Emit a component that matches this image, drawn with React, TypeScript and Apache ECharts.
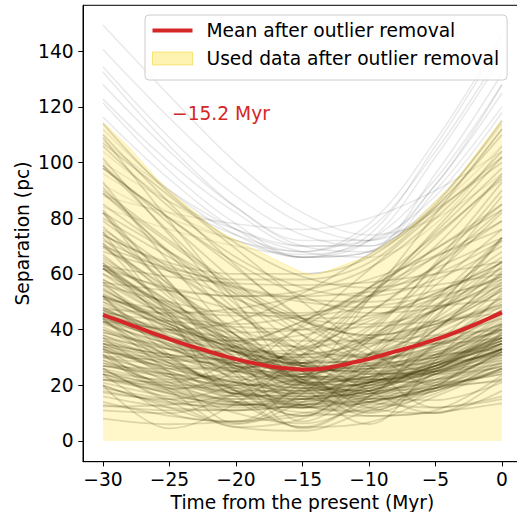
import React, { useEffect, useRef } from 'react';
import * as echarts from 'echarts';

const trackTimes = [-30, -25, -20, -15, -10, -5, 0];

const outlierTracks: number[][] = [
  [149.4, 124, 100, 82, 74, 80, 96],
  [140.6, 116, 94, 78, 72, 84, 106],
  [134.4, 109, 88, 74, 70, 86, 114],
  [132.5, 106, 84, 70, 68, 90, 120],
  [122.8, 100, 82, 70, 70, 92, 125],
  [121.5, 97, 78, 66, 68, 96, 132],
  [116.4, 94, 76, 66, 72, 102, 138],
  [112, 90, 74, 66, 74, 106, 144],
  [104, 86, 74, 68, 76, 104, 140],
  [96, 82, 72, 68, 78, 108, 146],
  [88, 82, 78, 76, 80, 90, 104],
  [100, 86, 76, 70, 72, 88, 118],
  [92, 80, 72, 66, 68, 84, 112],
  [84, 76, 70, 67, 72, 94, 128],
  [108, 90, 76, 68, 66, 78, 106],
  [128, 104, 84, 72, 72, 92, 128],
];

const usedTracks: number[][] = [
  [45, 30, 16, 5, 16, 30, 45], [46, 34, 22, 12.5, 11, 20, 32], [27, 23, 20, 20.5, 23, 28, 34],
  [33.5, 21, 15, 21, 33.5, 47, 62], [47, 39, 32, 27, 25, 27, 32], [57, 37, 18, 9, 25, 45, 64.5],
  [50, 41, 33.5, 30, 31.5, 37.5, 46], [20, 13.4, 12.6, 18.4, 27, 36, 45.6], [79, 62, 46, 30, 19, 21, 33],
  [34, 24, 14, 5, 6.7, 16, 26], [46, 43, 41, 40, 41, 43, 46], [25, 22, 25, 33, 43, 53, 64],
  [76, 61, 46, 32, 18, 10, 18], [30.5, 29, 28, 28, 29, 31, 33], [26, 14, 6, 14, 26, 38, 50],
  [72, 61, 51, 43, 37, 35, 37], [82, 57, 34, 17, 26, 48, 72], [51, 47, 45, 45, 48, 52, 58],
  [20, 12, 5, 3.6, 11, 18, 26], [75, 56, 38, 23, 21.5, 34, 52], [12.4, 13, 17, 23, 29.5, 36.5, 44],
  [48, 36, 27, 24, 30, 41, 54], [22, 17.5, 13.5, 10.3, 9, 10.3, 13.5], [74, 63, 55.5, 51, 50, 54, 62],
  [44, 28, 16, 17.5, 31, 48, 64.5], [24, 10, 7, 21, 36, 51, 66], [37, 33, 32, 33, 37, 42, 48],
  [35, 27, 21, 18, 21, 27, 35], [62, 48, 34, 21, 9, 11, 23.5], [27, 26, 26.4, 28, 31, 35, 39],
  [89, 71, 55, 43, 38, 43, 55], [64, 42, 21, 12, 29, 51, 73], [52, 43, 35, 28, 22.5, 21, 24],
  [17.4, 15, 20, 28, 38, 49, 59], [63, 59, 56.6, 56, 57, 60, 64.5], [114, 89, 71, 59, 55, 60, 72],
  [74, 64, 60, 60, 66, 85, 115], [106, 84, 66, 55, 52, 58, 70], [70, 62, 58, 58, 64, 84, 110],
  [98, 80, 64, 52, 46, 48, 56], [62, 55, 52, 54, 62, 80, 104], [90, 72, 56, 44, 38, 42, 54],
  [56, 50, 46, 46, 52, 70, 96], [45, 36.5, 36, 43, 55, 69, 85], [85, 68, 51.5, 38, 30, 34, 45.5],
  [63, 54, 47, 44, 45, 51, 59], [109, 79, 50, 22, 18, 44, 73], [71, 46.5, 28, 31, 51, 76, 102],
  [83, 57, 32, 7, 21, 47, 73], [67, 49, 36, 34, 46, 63, 83], [52, 31, 19, 31, 52, 75, 98],
  [89, 68, 47, 27, 10, 19, 39], [52, 45, 42, 45, 52, 62, 73], [63, 48, 33, 21, 17, 25.5, 39],
  [93, 64, 38, 23, 38, 64, 93], [31, 18, 5, 8, 21, 34, 47], [43, 40, 37, 36, 36, 38, 40],
  [52.5, 42, 32, 22.5, 15.5, 14.7, 21], [99, 75, 52.5, 34, 27.5, 40, 61], [22, 21, 29, 41, 55, 69, 83],
  [98, 80, 62, 44, 27, 12, 15], [68, 61, 55, 50, 48, 48.5, 51], [20, 4.5, 13.5, 30, 46, 63, 79],
  [34, 26, 22, 24, 31, 40, 51], [32, 30, 34, 43, 54, 66, 79], [62, 45, 28, 13, 10.5, 25, 42],
  [24, 20, 17, 16, 17, 20, 24], [46, 40, 43, 53, 67, 83, 100], [75, 45, 17, 22, 51, 81.5, 112],
  [82, 68, 54, 41, 31, 25, 28], [29, 19, 10, 6.3, 13.4, 23, 33], [54.5, 42, 33.5, 31, 36.5, 47, 60],
  [77, 56, 36, 21, 23, 40, 60], [24, 17, 13, 15, 21, 28, 37], [57, 54, 52, 52, 53.5, 56, 60],
  [33, 19, 21, 36, 55, 74, 94], [110, 85.5, 63, 44, 35, 44, 63], [26, 15, 11, 19, 31, 43, 56],
  [44, 37.5, 32, 27, 24.5, 24, 26.5], [91, 67, 43, 20, 6, 29, 53], [35, 31, 29, 31, 35, 42, 49],
  [57, 44, 32, 22, 15, 18, 28], [64, 46, 30, 20, 25, 40, 57], [14, 9, 7, 9, 14, 19, 25],
  [63, 48, 39, 40, 51, 66.5, 85], [82, 53, 25, 12, 31, 59, 88], [35, 31, 29, 27, 27, 28, 31],
  [62, 43, 23.5, 4.4, 16, 35, 55], [47.5, 46, 47.5, 52, 58, 66.5, 76], [107, 88, 69, 50, 33, 20, 21.5],
  [101.5, 74, 49, 33.5, 41, 63, 90], [43, 30, 18, 14, 22, 35, 48.5], [52, 34, 26, 34, 52, 73, 95],
  [11, 10, 17, 27, 37, 47, 57], [99, 78, 57, 38, 24, 26, 41.5], [80, 66, 53, 44, 42, 47, 58],
  [44, 24.5, 6.4, 17, 36, 56, 76], [42.5, 34.5, 27, 19, 14, 12, 16], [42, 35, 31, 30, 34, 41, 49],
  [31, 18.5, 25, 42, 61.5, 82, 102], [47, 40, 36, 38, 44, 53, 64], [69.5, 55, 40, 25, 12, 10, 22.5],
  [37, 23, 16, 23, 37, 52, 68], [73, 51.5, 34, 28, 40, 60, 82], [38, 28, 19, 13, 15, 24, 35],
  [30, 24, 19, 17, 19, 25, 33], [55, 40, 26, 16, 18, 29, 43], [41, 31, 23, 19, 21, 28, 38],
  [28, 20, 14, 12, 16, 24, 33], [60, 45, 32, 22, 20, 28, 41], [36, 30, 25, 22, 23, 28, 36],
  [50, 37, 26, 20, 22, 31, 44], [24, 18, 15, 15, 19, 26, 35], [66, 50, 35, 24, 21, 27, 40],
  [33, 25, 18, 15, 18, 26, 36], [43, 33, 25, 21, 23, 31, 42], [19, 15, 13, 14, 18, 25, 33],
  [53, 42, 33, 27, 26, 31, 40], [39, 33, 28, 25, 26, 30, 37], [70, 53, 38, 27, 25, 33, 47],
  [40, 29, 18, 9, 12, 22, 33], [58, 44, 30, 18, 12, 17, 29], [25, 19, 14, 12, 14, 19, 26],
  [47, 35, 24, 15, 14, 21, 32], [36, 27, 20, 17, 20, 27, 37], [29, 22, 17, 16, 20, 27, 36],
  [62, 47, 33, 21, 15, 19, 31], [44, 36, 29, 24, 22, 24, 30], [33, 26, 21, 19, 21, 26, 33],
  [21, 16, 14, 15, 20, 27, 35], [52, 40, 29, 21, 18, 22, 31], [38, 31, 26, 23, 24, 29, 37],
  [16, 12, 11, 13, 18, 25, 33], [71, 54, 38, 25, 17, 19, 30], [27, 24, 23, 24, 28, 34, 42],
  [49, 38, 28, 20, 16, 18, 26], [35, 25, 17, 13, 16, 24, 34], [43, 37, 32, 29, 28, 30, 35],
  [58, 46, 36, 28, 24, 26, 33], [23, 17, 13, 13, 17, 24, 32], [31, 23, 17, 15, 19, 27, 38],
  [54, 43, 34, 28, 26, 29, 36], [18, 14, 12, 12, 15, 20, 27], [40, 33, 27, 23, 22, 25, 31],
  [65, 50, 37, 27, 22, 25, 35], [30, 27, 25, 25, 27, 31, 37], [48, 37, 27, 21, 20, 26, 37],
  [26, 21, 18, 18, 21, 27, 35], [37, 28, 21, 18, 21, 30, 41], [13, 11, 11, 13, 17, 22, 28],
  [56, 41, 27, 16, 13, 20, 32], [32, 28, 25, 23, 23, 25, 29], [45, 39, 34, 31, 31, 35, 42],
  [22, 20, 20, 22, 26, 32, 40], [60, 49, 40, 33, 30, 32, 38], [39, 34, 30, 28, 29, 33, 40],
  [8, 6, 7, 10, 14, 19, 25], [28, 24, 21, 19, 18, 19, 22], [51, 41, 32, 25, 21, 22, 27],
  [34, 30, 27, 26, 27, 30, 36],
];

const gridTimes = [
  -30, -29, -28, -27, -26, -25, -24, -23, -22, -21, -20, -19, -18, -17, -16, -15,
  -14, -13, -12, -11, -10, -9, -8, -7, -6, -5, -4, -3, -2, -1, 0,
];
const meanSeparation = [
  45.2, 43.6, 41.8, 40.1, 38.3, 36.6, 35.0, 33.5, 32.1, 30.7, 29.4, 28.3, 27.3, 26.5, 26.0, 25.7,
  25.8, 26.4, 27.3, 28.4, 29.5, 30.8, 32.2, 33.5, 34.9, 36.5, 38.1, 39.9, 41.9, 44.0, 46.2,
];
const upperEnvelope = [
  114.6, 109.8, 105.3, 99.8, 94.5, 89.8, 85.7, 81.8, 77.6, 74.6, 72.2, 69.6, 67.4, 65.0, 62.7, 60.4,
  59.6, 61.2, 63.0, 64.7, 66.6, 69.8, 72.8, 76.5, 81.3, 86.0, 90.8, 96.4, 102.8, 109.2, 115.3,
];

const xTicks = [-30, -25, -20, -15, -10, -5, 0];
const yTicks = [0, 20, 40, 60, 80, 100, 120, 140];
const meanName = 'Mean after outlier removal';
const bandName = 'Used data after outlier removal';
const minimumLabel = '\u221215.2 Myr';

export default function App() {
  const ref = useRef<HTMLDivElement>(null);
  useEffect(() => {
    document.body.style.margin = '0';
    const chart = echarts.init(ref.current as HTMLDivElement, null, { renderer: 'svg' });
    const font = 'DejaVu Sans';
    const fs = 18.67;
    const fmt = (v: number) => (v < 0 ? '\u2212' + Math.abs(v) : String(v));
    const pair = (ts: number[], vs: number[]) => ts.map((t, i) => [t, vs[i]]);
    const tracks = (list: number[][], color: string, width: number, prefix: string) =>
      list.map((vs, i) => ({
        name: prefix + i,
        type: 'line',
        data: pair(trackTimes, vs),
        symbol: 'none',
        smooth: 0.35,
        silent: true,
        z: 2,
        lineStyle: { color, width },
        emphasis: { disabled: true },
      }));

    chart.setOption({
      animation: false,
      textStyle: { fontFamily: font },
      grid: {
        left: 83,
        top: 5.3,
        right: -4.9,
        bottom: 50.3,
        containLabel: false,
        outerBoundsMode: 'none',
        show: true,
        borderColor: '#000',
        borderWidth: 1,
        backgroundColor: 'transparent',
      },
      xAxis: {
        type: 'value',
        min: -31.5,
        max: 1.5,
        name: 'Time from the present (Myr)',
        nameLocation: 'middle',
        nameGap: 31,
        nameMoveOverlap: false,
        nameTextStyle: { fontSize: fs, color: '#000', fontFamily: font },
        axisLine: { show: true, onZero: false, lineStyle: { color: '#000', width: 1 } },
        axisTick: { show: true, length: 4.7, customValues: xTicks, lineStyle: { color: '#000', width: 1 } },
        axisLabel: { customValues: xTicks, formatter: fmt, fontSize: fs, color: '#000', margin: 8, fontFamily: font },
        splitLine: { show: false },
      },
      yAxis: {
        type: 'value',
        min: -7.45,
        max: 156.5,
        name: 'Separation (pc)',
        nameLocation: 'middle',
        nameGap: 51,
        nameMoveOverlap: false,
        nameTextStyle: { fontSize: fs, color: '#000', fontFamily: font },
        axisLine: { show: true, onZero: false, lineStyle: { color: '#000', width: 1 } },
        axisTick: { show: true, length: 4.7, customValues: yTicks, lineStyle: { color: '#000', width: 1 } },
        axisLabel: { customValues: yTicks, formatter: fmt, fontSize: fs, color: '#000', margin: 9.3, fontFamily: font },
        splitLine: { show: false },
      },
      legend: {
        left: 145,
        top: 15,
        orient: 'vertical',
        selectedMode: false,
        padding: [6, 8, 12, 7],
        itemGap: 9,
        itemWidth: 40,
        itemHeight: 13,
        backgroundColor: 'rgba(255,255,255,0.8)',
        borderColor: '#cccccc',
        borderWidth: 1,
        borderRadius: 4,
        textStyle: { fontSize: fs, color: '#000', fontFamily: font, padding: [0, 0, 0, 9] },
        data: [
          { name: meanName, icon: 'path://M0,0H40V4H0Z', itemStyle: { color: '#d62728' } },
          {
            name: bandName,
            icon: 'rect',
            itemStyle: { color: 'rgba(255,215,0,0.3)', borderColor: 'rgba(240,200,0,0.45)', borderWidth: 1 },
          },
        ],
      },
      graphic: [
        {
          type: 'text',
          left: 172,
          top: 104,
          z: 10,
          style: { text: minimumLabel, fill: '#d62728', font: `${fs}px "DejaVu Sans"` },
        },
      ],
      series: [
        ...tracks(outlierTracks, 'rgba(0,0,0,0.09)', 1.5, 'outlier'),
        ...tracks(usedTracks, 'rgba(0,0,0,0.17)', 1.8, 'used'),
        {
          name: bandName,
          type: 'line',
          data: pair(gridTimes, upperEnvelope),
          symbol: 'none',
          silent: true,
          z: 3,
          itemStyle: { color: 'rgba(255,215,0,0.3)' },
          lineStyle: { color: 'rgba(255,215,0,0.3)', width: 1 },
          areaStyle: { color: 'rgba(255,215,0,0.3)', origin: 0 },
        },
        {
          name: meanName,
          type: 'line',
          data: pair(gridTimes, meanSeparation),
          symbol: 'none',
          smooth: true,
          silent: true,
          z: 4,
          itemStyle: { color: '#d62728' },
          lineStyle: { color: '#d62728', width: 4 },
        },
      ],
    });
    return () => chart.dispose();
  }, []);
  return <div ref={ref} style={{ position: 'absolute', left: 0, top: 0, width: 517, height: 512 }} />;
}
